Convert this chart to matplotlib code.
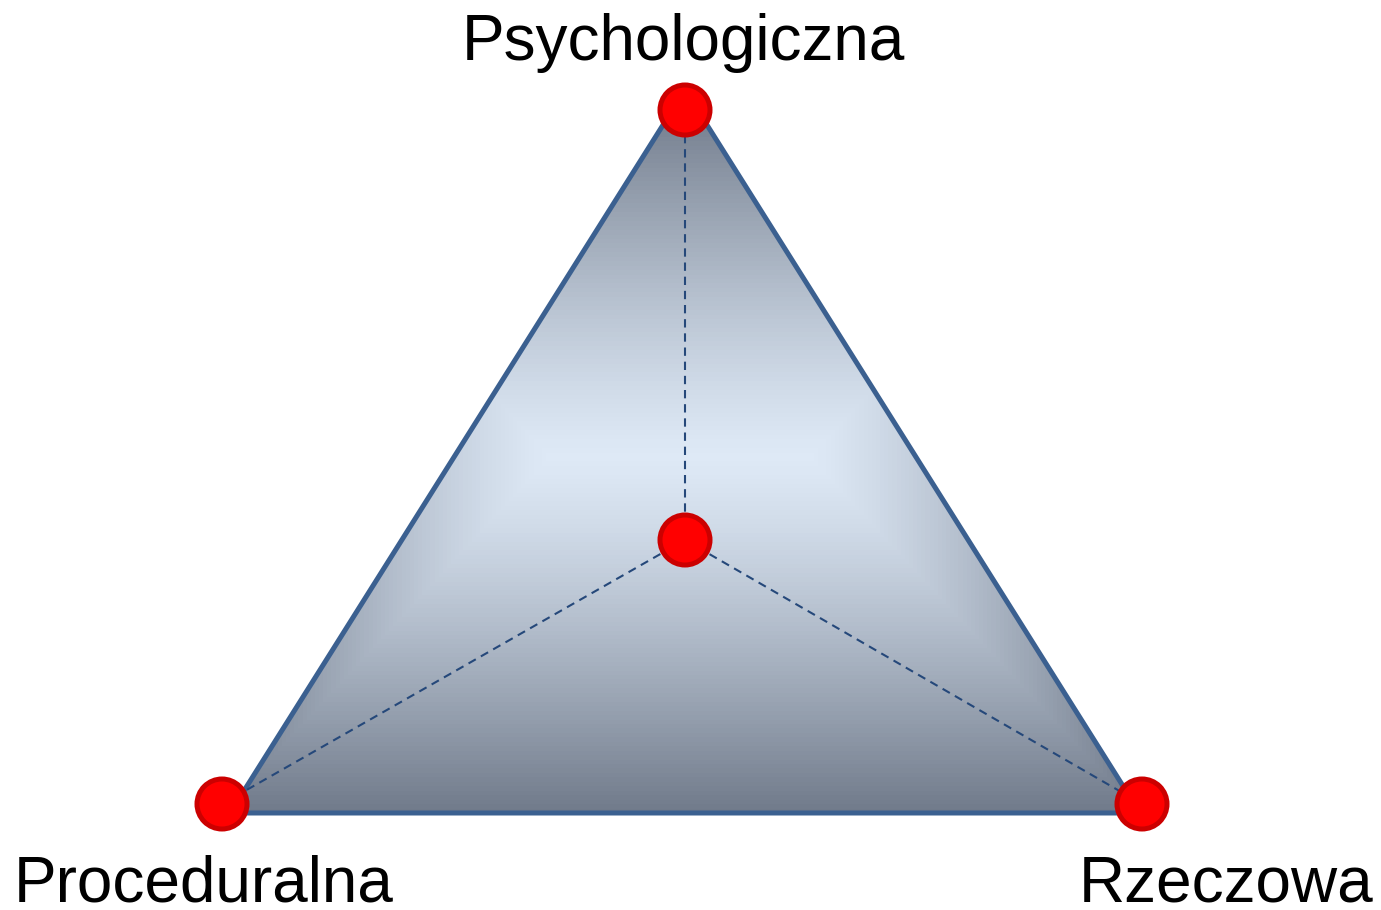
import numpy as np
import matplotlib
matplotlib.use("Agg")
import matplotlib.pyplot as plt
from matplotlib.patches import Polygon, Circle
from matplotlib.colors import to_rgb

# Data (pixel-space layout of the diagram)
labels = ["Psychologiczna", "Proceduralna", "Rzeczowa"]
vertex_x = [685, 222, 1142]
vertex_y = [110, 804, 804]
center_x = 685
center_y = 540
tri_x = [685, 230, 1140]
tri_y = [90, 813, 813]

W, H = 1381, 910
fig = plt.figure(figsize=(W / 100, H / 100), dpi=100)
ax = fig.add_axes([0, 0, 1, 1])
ax.set_xlim(0, W)
ax.set_ylim(H, 0)
ax.axis("off")

# Gradient fill (rectangular path gradient, centre elongated horizontally)
xs = np.arange(0, W) + 0.5
ys = np.arange(0, H) + 0.5
X, Y = np.meshgrid(xs, ys)
gcx, gcy = 680, 457
s = np.maximum(np.abs(Y - gcy) / 356.0, (np.abs(X - gcx) - 130.0) / 330.0)
s = np.clip(s, 0, 1)
s = np.floor(s * 80) / 80
c0 = np.array(to_rgb("#dee9f6"))
c1 = np.array(to_rgb("#6f7989"))
tt = s ** 1.25
img = c0[None, None, :] * (1 - tt[..., None]) + c1[None, None, :] * tt[..., None]
im = ax.imshow(img, extent=(0, W, H, 0), origin="upper", zorder=1, interpolation="nearest")
clip = Polygon(list(zip(tri_x, tri_y)), closed=True, transform=ax.transData)
im.set_clip_path(clip)
tri = Polygon(list(zip(tri_x, tri_y)), closed=True, facecolor="none",
              edgecolor="#3b6090", linewidth=3.6, joinstyle="miter", zorder=3)
ax.add_patch(tri)

# Dashed spokes
for vx, vy in zip(vertex_x, vertex_y):
    ax.plot([center_x, vx], [center_y, vy], color="#25487a", lw=1.5,
            linestyle=(0, (4, 2.8)), zorder=4)

# Red nodes
for x, y in list(zip(vertex_x, vertex_y)) + [(center_x, center_y)]:
    ax.add_patch(Circle((x, y), 25, facecolor="#ff0000", edgecolor="#cc0000",
                        linewidth=3.6, zorder=5))

font = "Liberation Sans"
ax.text(683, 60, labels[0], fontsize=46, family=font, ha="center", va="baseline")
ax.text(14, 901, labels[1], fontsize=46, family=font, ha="left", va="baseline")
ax.text(1374, 901, labels[2], fontsize=46, family=font, ha="right", va="baseline")

fig.savefig("out.png", dpi=100)
